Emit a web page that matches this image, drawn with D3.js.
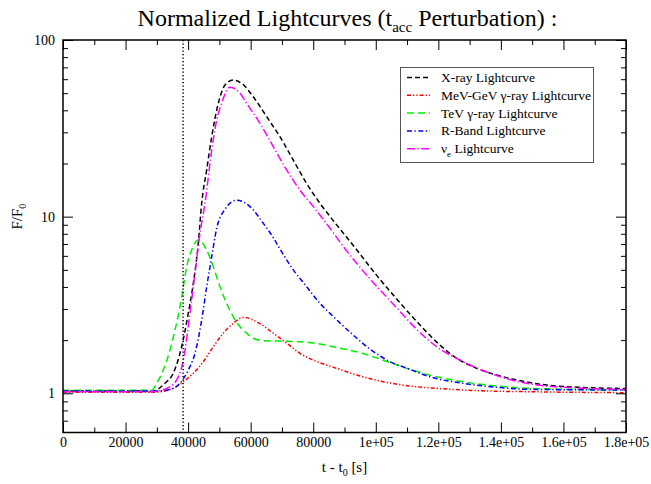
<!DOCTYPE html>
<html><head><meta charset="utf-8">
<script src="https://cdn.jsdelivr.net/npm/d3@7"></script>
<style>
body{margin:0;background:#fff}
svg text{font-family:"Liberation Serif","Tinos","Nimbus Roman","Times New Roman","DejaVu Serif","Noto Serif",serif !important;fill:#000}
</style>
</head><body>
<svg id="c" width="651" height="484" font-family="Liberation Serif, DejaVu Serif, serif"></svg>
<script>
// ---- data ----
const xMajorTicks = [0,20000,40000,60000,80000,100000,120000,140000,160000,180000];
const xTickLabels = ["0","20000","40000","60000","80000","1e+05","1.2e+05","1.4e+05","1.6e+05","1.8e+05"];
const xMinorTicks = [10000,30000,50000,70000,90000,110000,130000,150000,170000];
const yMajorTicks = [1,10,100];
const yTickLabels = ["1","10","100"];
const yMinorTicks = [0.7,0.8,0.9,2,3,4,5,6,7,8,9,20,30,40,50,60,70,80,90];
const markerTime = 38400;

const seriesNames = ["X-ray Lightcurve","MeV-GeV \u03b3-ray Lightcurve","TeV \u03b3-ray Lightcurve","R-Band Lightcurve","\u03bd_e Lightcurve"];

const xrayT = [0,28800,32600,35260,37950,40060,41660,43260,44340,45940,47540,49650,51790,54450,57130,60840,65120,69380,73630,77910,82160,86410,93000,100300,106680,113080,119470,125870,132260,138650,145050,154640,165290,180000];
const xrayV = [1.03,1.03,1.14,1.30,1.84,2.84,4.19,7.06,11.9,18.4,28.3,43.8,55.6,59.3,56.8,47.7,36.8,28.3,20.9,15.4,11.9,9.5,6.8,4.65,3.42,2.55,1.95,1.58,1.385,1.27,1.19,1.114,1.081,1.065];

const mevT = [0,28870,35260,38460,41660,44850,48050,51250,54450,57650,61940,67240,71530,75780,80040,84320,87520,93890,102390,110930,119470,133220,149300,180000];
const mevV = [1.013,1.013,1.067,1.163,1.298,1.51,1.835,2.19,2.49,2.69,2.54,2.19,1.92,1.684,1.54,1.446,1.385,1.27,1.163,1.10,1.067,1.034,1.021,1.008];

const tevT = [0,28360,29960,32070,34210,35810,37400,38460,39550,41150,43260,45940,48050,50190,52330,54450,56590,58730,60840,64040,69380,75780,82160,88550,93890,102390,110930,119470,127970,138650,149300,180000];
const tevV = [1.04,1.04,1.14,1.355,1.76,2.28,3.09,4.01,5.21,6.47,7.37,6.47,5.21,4.01,3.23,2.71,2.38,2.19,2.05,1.985,1.975,1.96,1.90,1.80,1.72,1.54,1.367,1.24,1.163,1.10,1.067,1.044];

const rbandT = [0,30000,34210,37400,40060,42200,44340,45940,47540,49140,51790,55530,59790,64040,67240,69380,73630,77910,82160,86410,91740,98130,104540,110930,117320,127970,138650,149300,180000];
const rbandV = [1.03,1.03,1.053,1.139,1.355,1.684,2.60,4.01,5.93,8.6,11.0,12.4,11.4,9.17,7.6,6.55,5.0,4.01,3.23,2.72,2.22,1.78,1.51,1.367,1.24,1.139,1.081,1.053,1.044];

const nueT = [0,28000,33150,36350,38460,40600,42200,43800,45400,47540,49140,50740,53390,56590,58730,62990,67240,71530,75780,80040,84320,91000,98130,106680,113080,119470,127970,136480,145050,154640,180000];
const nueV = [1.02,1.02,1.067,1.19,1.54,2.84,4.78,8.04,11.9,23.8,35.2,44.0,54.1,49.9,43.8,33.7,24.9,18.35,14.1,11.4,9.1,6.3,4.45,3.05,2.3,1.835,1.51,1.30,1.17,1.10,1.05];

// ---- layout ----
const FONT="Liberation Serif, DejaVu Serif, serif";
const W=651,H=484, L=63, R=626, T=40, B=432.5;
const svg=d3.select("#c");
svg.append("rect").attr("width",W).attr("height",H).attr("fill","#fff");

const x=d3.scaleLinear().domain([0,180000]).range([L,R]);
const y=d3.scaleLog().domain([0.6,100]).range([B,T]);

const series=[
 {t:xrayT,v:xrayV,color:"#000000",dash:"5,3"},
 {t:mevT,v:mevV,color:"#ff0000",dash:"4,2,1.3,2,1.3,2"},
 {t:tevT,v:tevV,color:"#00ee00",dash:"7,4"},
 {t:rbandT,v:rbandV,color:"#0000ff",dash:"5,2.5,1.3,2.5"},
 {t:nueT,v:nueV,color:"#ff00ff",dash:"8,2.5,1.3,2.5"}
];

const line=d3.line().x(d=>x(d[0])).y(d=>y(d[1])).curve(d3.curveMonotoneX);
svg.append("clipPath").attr("id","pc").append("rect").attr("x",L).attr("y",T).attr("width",R-L).attr("height",B-T);

const g=svg.append("g").attr("clip-path","url(#pc)");
series.forEach(s=>{
  const pts=s.t.map((t,i)=>[t,s.v[i]]);
  g.append("path").attr("d",line(pts)).attr("fill","none")
   .attr("stroke",s.color).attr("stroke-width",1.5).attr("stroke-dasharray",s.dash);
});

// marker dotted line
svg.append("line").attr("x1",x(markerTime)).attr("x2",x(markerTime)).attr("y1",T).attr("y2",B)
  .attr("stroke","#000").attr("stroke-width",1.5).attr("stroke-dasharray","1.2,2.3");

// axes
function styleAxis(sel){sel.attr("font-family",FONT); sel.select(".domain").remove(); sel.selectAll("line").attr("stroke","#000").attr("stroke-width",1);}
const fmtX=d=>xTickLabels[xMajorTicks.indexOf(d)];
const fmtY=d=>yTickLabels[yMajorTicks.indexOf(d)];

svg.append("g").attr("transform",`translate(0,${B})`)
 .call(d3.axisBottom(x).tickValues(xMajorTicks).tickSize(-10).tickPadding(5).tickFormat(fmtX))
 .call(styleAxis).selectAll("text").attr("font-size",14).attr("font-family",FONT).attr("fill","#000");
svg.append("g").attr("transform",`translate(0,${B})`)
 .call(d3.axisBottom(x).tickValues(xMinorTicks).tickSize(-5).tickFormat(""))
 .call(styleAxis);
svg.append("g").attr("transform",`translate(0,${T})`)
 .call(d3.axisTop(x).tickValues(xMajorTicks).tickSize(-10).tickFormat(""))
 .call(styleAxis);
svg.append("g").attr("transform",`translate(0,${T})`)
 .call(d3.axisTop(x).tickValues(xMinorTicks).tickSize(-5).tickFormat(""))
 .call(styleAxis);

svg.append("g").attr("transform",`translate(${L},0)`)
 .call(d3.axisLeft(y).tickValues(yMajorTicks).tickSize(-10).tickPadding(8).tickFormat(fmtY))
 .call(styleAxis).selectAll("text").attr("font-size",14).attr("font-family",FONT).attr("fill","#000");
svg.append("g").attr("transform",`translate(${L},0)`)
 .call(d3.axisLeft(y).tickValues(yMinorTicks).tickSize(-5).tickFormat(""))
 .call(styleAxis);
svg.append("g").attr("transform",`translate(${R},0)`)
 .call(d3.axisRight(y).tickValues(yMajorTicks).tickSize(-10).tickFormat(""))
 .call(styleAxis);
svg.append("g").attr("transform",`translate(${R},0)`)
 .call(d3.axisRight(y).tickValues(yMinorTicks).tickSize(-5).tickFormat(""))
 .call(styleAxis);

// frame
svg.append("rect").attr("x",L).attr("y",T).attr("width",R-L).attr("height",B-T)
 .attr("fill","none").attr("stroke","#000").attr("stroke-width",1.5);

// title
const title=svg.append("text").attr("x",(L+R)/2+3).attr("y",26).attr("text-anchor","middle").attr("font-size",24).attr("font-family",FONT);
title.append("tspan").text("Normalized Lightcurves (t");
title.append("tspan").attr("font-size",15).attr("dy",6).text("acc");
title.append("tspan").attr("dy",-6).text(" Perturbation) :");

// x label
const xl=svg.append("text").attr("x",(L+R)/2).attr("y",472).attr("text-anchor","middle").attr("font-size",15).attr("font-family",FONT);
xl.append("tspan").text("t - t");
xl.append("tspan").attr("font-size",10).attr("dy",4).text("0");
xl.append("tspan").attr("dy",-4).text(" [s]");

// y label
const yl=svg.append("text").attr("transform",`translate(22,${y(10)}) rotate(-90)`).attr("text-anchor","middle").attr("font-size",15).attr("font-family",FONT);
yl.append("tspan").text("F/F");
yl.append("tspan").attr("font-size",10).attr("dy",4).text("0");

// legend
const lg=svg.append("g");
lg.append("rect").attr("x",400.5).attr("y",67.5).attr("width",193).attr("height",95)
 .attr("fill","#fff").attr("stroke","#555").attr("stroke-width",1);
series.forEach((s,i)=>{
  const yy=77.5+i*17.8;
  lg.append("line").attr("x1",407).attr("x2",430).attr("y1",yy).attr("y2",yy)
    .attr("stroke",s.color).attr("stroke-width",1.5).attr("stroke-dasharray",s.dash);
  const name=seriesNames[i];
  const tx=lg.append("text").attr("x",441).attr("y",yy+4.5).attr("font-size",13.5).attr("font-family",FONT);
  if(name.indexOf("_")>=0){
    const parts=name.split("_");
    tx.append("tspan").text(parts[0]);
    tx.append("tspan").attr("font-size",9).attr("dy",4).text(parts[1].charAt(0));
    tx.append("tspan").attr("dy",-4).text(parts[1].slice(1));
  } else tx.text(name);
});
</script>
</body></html>
